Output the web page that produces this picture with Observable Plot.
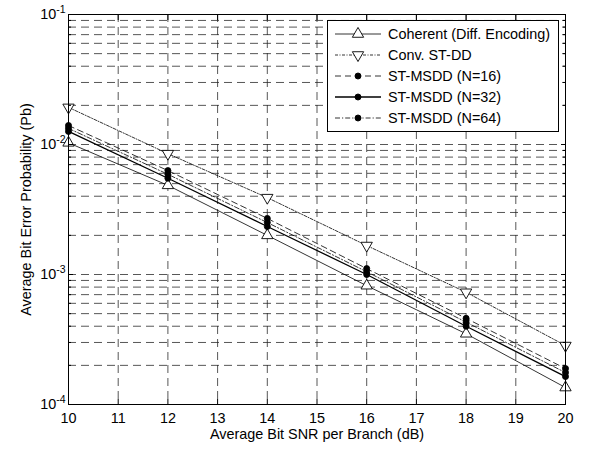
<!DOCTYPE html>
<html><head><meta charset="utf-8">
<script src="https://cdn.jsdelivr.net/npm/d3@7"></script>
<script src="https://cdn.jsdelivr.net/npm/@observablehq/plot@0.6"></script>
<style>
body{margin:0;background:#fff;font-family:"Liberation Sans",Arial,sans-serif;}
#wrap{position:relative;width:590px;height:451px;}
#legend{position:absolute;left:327px;top:20px;width:232px;height:112px;border:1px solid #000;background:#fff;box-sizing:border-box;}
.row{position:absolute;left:0;height:16px;display:flex;align-items:center;}
.row svg{margin-left:6px;}
.row span{margin-left:6px;font-size:14.4px;color:#000;white-space:nowrap;}
</style>
</head><body>
<div id="wrap"><div id="chart"></div><div id="legend"></div></div>
<script>
// ---- data ----
const snr = [10, 12, 14, 16, 18, 20];
const coherent = [1.03e-2, 4.85e-3, 2.0e-3, 8.2e-4, 3.5e-4, 1.35e-4];
const convSTDD = [1.93e-2, 8.5e-3, 3.9e-3, 1.67e-3, 7.3e-4, 2.84e-4];
const msdd16 = [1.40e-2, 6.3e-3, 2.7e-3, 1.11e-3, 4.6e-4, 1.89e-4];
const msdd32 = [1.26e-2, 5.5e-3, 2.34e-3, 1.0e-3, 4.0e-4, 1.64e-4];
const msdd64 = [1.33e-2, 5.9e-3, 2.51e-3, 1.05e-3, 4.3e-4, 1.76e-4];
const seriesNames = ["Coherent (Diff. Encoding)", "Conv. ST-DD", "ST-MSDD (N=16)", "ST-MSDD (N=32)", "ST-MSDD (N=64)"];
const seriesValues = [coherent, convSTDD, msdd16, msdd32, msdd64];
const xTicks = [10, 11, 12, 13, 14, 15, 16, 17, 18, 19, 20];
const yMajor = [1e-4, 1e-3, 1e-2, 1e-1];
const yMinor = [2e-4,3e-4,4e-4,5e-4,6e-4,7e-4,8e-4,9e-4,2e-3,3e-3,4e-3,5e-3,6e-3,7e-3,8e-3,9e-3,2e-2,3e-2,4e-2,5e-2,6e-2,7e-2,8e-2,9e-2];
const xLabel = "Average Bit SNR per Branch (dB)";
const yLabel = "Average Bit Error Probability (Pb)";

// ---- styles (not data) ----
const styles = [
  {dash: null, width: 0.8, symbol: "triangle", rotate: 0, fill: "white", r: 4.2},
  {dash: "3,1.5,1,1.5", width: 0.8, symbol: "triangle", rotate: 180, fill: "white", r: 4.2},
  {dash: "6,4", width: 0.8, symbol: "circle", rotate: 0, fill: "black", r: 3},
  {dash: null, width: 1.3, symbol: "circle", rotate: 0, fill: "black", r: 3},
  {dash: "5,2,1.2,2", width: 0.8, symbol: "circle", rotate: 0, fill: "black", r: 3}
];

const table = seriesNames.map((name, i) => snr.map((x, j) => ({name, x, y: seriesValues[i][j]})));

const gridStyle = {stroke: "#222", strokeOpacity: 0.85, strokeWidth: 0.9, strokeDasharray: "8,5"};

const marks = [
  Plot.gridX(xTicks.slice(1, -1), gridStyle),
  Plot.gridY(yMinor.concat(yMajor.slice(1, -1)), gridStyle)
];
table.forEach((d, i) => {
  const s = styles[i];
  marks.push(Plot.line(d, {x: "x", y: "y", stroke: "black", strokeWidth: s.width, strokeDasharray: s.dash}));
});
table.forEach((d, i) => {
  const s = styles[i];
  marks.push(Plot.dot(d, {x: "x", y: "y", symbol: () => s.symbol, rotate: s.rotate, r: s.r, fill: s.fill, stroke: "black", strokeWidth: 0.9}));
});
marks.push(
  Plot.frame({stroke: "black", strokeWidth: 1}),
  Plot.axisX(xTicks, {tickSize: -5, tickPadding: 13, label: xLabel, labelArrow: "none", labelAnchor: "center", labelOffset: 34, fontSize: 14.4}),
  Plot.axisX(xTicks, {anchor: "top", tickSize: -5, tickFormat: () => "", label: null}),
  Plot.axisY(yMajor, {tickSize: -5, tickPadding: 8, tickFormat: d => String(Math.round(Math.log10(d))), label: yLabel, labelArrow: "none", labelAnchor: "center", labelOffset: 48, fontSize: 14.4}),
  Plot.axisY(yMinor, {tickSize: -3, tickFormat: () => "", label: null}),
  Plot.axisY(yMajor, {anchor: "right", tickSize: -5, tickFormat: () => "", label: null}),
  Plot.axisY(yMinor, {anchor: "right", tickSize: -3, tickFormat: () => "", label: null})
);

const chart = Plot.plot({
  width: 590, height: 451,
  marginLeft: 68, marginRight: 25, marginTop: 14, marginBottom: 47,
  x: {domain: [10, 20]},
  y: {type: "log", domain: [1e-4, 1e-1]},
  style: {fontFamily: "'Liberation Sans', Arial, sans-serif", fontSize: "14.4px", color: "#000", background: "white"},
  marks
});
document.getElementById("chart").appendChild(chart);

// remove any direction arrows from axis labels
chart.querySelectorAll("text").forEach(t => {
  if (/[\u2192\u2191\u2190\u2193]/.test(t.textContent)) {
    t.textContent = t.textContent.replace(/\s*[\u2192\u2191\u2190\u2193]\s*/g, "").trim();
  }
});

// superscript formatting of the decade labels
chart.querySelectorAll('[aria-label="y-axis tick label"] text').forEach(t => {
  const e = t.textContent;
  if (!e) return;
  t.textContent = "";
  const base = document.createElementNS("http://www.w3.org/2000/svg", "tspan");
  base.textContent = "10";
  const sup = document.createElementNS("http://www.w3.org/2000/svg", "tspan");
  sup.textContent = e.replace("\u2212", "-");
  sup.setAttribute("dy", "-0.55em");
  sup.setAttribute("font-size", "10.5px");
  t.appendChild(base); t.appendChild(sup);
});

// legend
const legend = document.getElementById("legend");
const rowTops = [5, 26, 47, 68, 89];
seriesNames.forEach((name, i) => {
  const s = styles[i];
  const row = document.createElement("div");
  row.className = "row";
  row.style.top = rowTops[i] + "px";
  const ns = "http://www.w3.org/2000/svg";
  const svg = document.createElementNS(ns, "svg");
  svg.setAttribute("width", 48); svg.setAttribute("height", 16);
  const ln = document.createElementNS(ns, "line");
  ln.setAttribute("x1", 1); ln.setAttribute("x2", 47); ln.setAttribute("y1", 8); ln.setAttribute("y2", 8);
  ln.setAttribute("stroke", "black"); ln.setAttribute("stroke-width", s.width);
  if (s.dash) ln.setAttribute("stroke-dasharray", s.dash);
  svg.appendChild(ln);
  const sym = document.createElementNS(ns, "path");
  const size = Math.PI * s.r * s.r;
  sym.setAttribute("d", d3.symbol(s.symbol === "triangle" ? d3.symbolTriangle : d3.symbolCircle, size)());
  sym.setAttribute("transform", `translate(24,8) rotate(${s.rotate})`);
  sym.setAttribute("fill", s.fill); sym.setAttribute("stroke", "black"); sym.setAttribute("stroke-width", 0.9);
  svg.appendChild(sym);
  row.appendChild(svg);
  const sp = document.createElement("span");
  sp.textContent = name;
  row.appendChild(sp);
  legend.appendChild(row);
});
</script>
</body></html>
